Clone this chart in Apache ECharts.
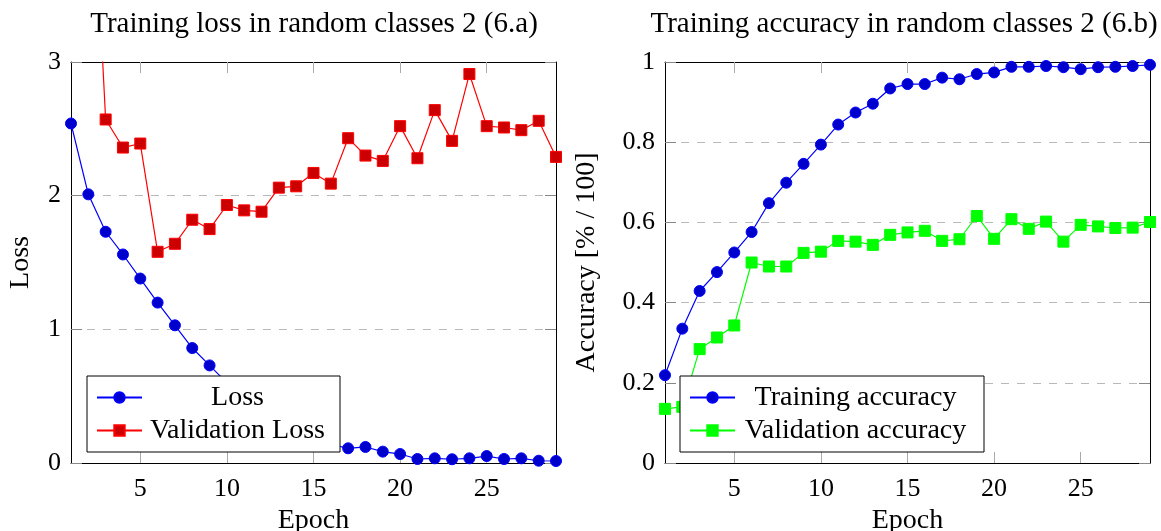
<!DOCTYPE html>
<html>
<head>
<meta charset="utf-8">
<script src="https://cdn.jsdelivr.net/npm/echarts@6/dist/echarts.min.js"></script>
<style>
html,body{margin:0;padding:0;background:#fff;}
#c{width:1161px;height:531px;}
</style>
</head>
<body>
<div id="c"></div>
<script>
// ---- data ----
const epochs = [1,2,3,4,5,6,7,8,9,10,11,12,13,14,15,16,17,18,19,20,21,22,23,24,25,26,27,28,29];
const lossValues = [2.54,2.01,1.73,1.56,1.38,1.20,1.03,0.86,0.73,0.60,0.49,0.39,0.31,0.24,0.18,0.14,0.11,0.12,0.085,0.067,0.03,0.035,0.028,0.035,0.052,0.03,0.035,0.017,0.015];
const valLossValues = [6.0,5.1,2.57,2.36,2.39,1.58,1.64,1.82,1.75,1.93,1.89,1.88,2.06,2.07,2.17,2.09,2.43,2.30,2.26,2.52,2.28,2.64,2.41,2.91,2.52,2.51,2.49,2.56,2.29];
const trainAccValues = [0.219,0.335,0.429,0.476,0.525,0.576,0.648,0.699,0.746,0.794,0.844,0.874,0.896,0.934,0.945,0.945,0.961,0.957,0.970,0.974,0.988,0.988,0.990,0.987,0.982,0.987,0.988,0.990,0.993];
const valAccValues = [0.135,0.140,0.284,0.313,0.343,0.500,0.490,0.490,0.524,0.527,0.554,0.552,0.544,0.569,0.575,0.579,0.554,0.558,0.616,0.559,0.608,0.584,0.602,0.552,0.594,0.590,0.586,0.587,0.601];
const epochTicks = [5,10,15,20,25];
const lossTickStep = 1;
const accTickStep = 0.2;
const titles = ['Training loss in random classes 2 (6.a)', 'Training accuracy in random classes 2 (6.b)'];
const seriesNames = ['Loss', 'Validation Loss', 'Training accuracy', 'Validation accuracy'];

// ---- chart ----
const FONT = '"Liberation Serif", "DejaVu Serif", serif';
const pairs = vals => epochs.map((e, i) => [e, vals[i]]);

function xAxes(gi) {
  const common = {
    gridIndex: gi, type: 'value', min: 1, max: 29,
    axisLine: { show: true, onZero: false, lineStyle: { color: '#000', width: 1 } },
    axisTick: { show: true, inside: true, length: 11, customValues: epochTicks, lineStyle: { color: '#aaa', width: 1 } },
    splitLine: { show: false }
  };
  return [
    Object.assign({}, common, {
      position: 'bottom',
      axisLabel: { show: true, customValues: epochTicks, margin: 13, fontSize: 26, fontFamily: FONT, color: '#000' },
      name: 'Epoch', nameLocation: 'middle', nameGap: 43,
      nameTextStyle: { fontSize: 28, fontFamily: FONT, color: '#000' }
    }),
    Object.assign({}, common, { position: 'top', axisLabel: { show: false } })
  ];
}

function yAxes(gi, max, step, name, nameGap) {
  const common = {
    gridIndex: gi, type: 'value', min: 0, max: max, interval: step,
    axisLine: { show: true, onZero: false, lineStyle: { color: '#000', width: 1 } },
    axisTick: { show: true, inside: true, length: 11, lineStyle: { color: '#888', width: 1 } }
  };
  return [
    Object.assign({}, common, {
      position: 'left',
      axisLabel: { show: true, margin: 10, fontSize: 26, fontFamily: FONT, color: '#000' },
      splitLine: { show: true, showMinLine: false, showMaxLine: false, lineStyle: { type: [8, 8], color: '#b8b8b8', width: 1 } },
      name: name, nameLocation: 'middle', nameGap: nameGap,
      nameTextStyle: { fontSize: 28, fontFamily: FONT, color: '#000' }
    }),
    Object.assign({}, common, { position: 'right', axisLabel: { show: false }, splitLine: { show: false } })
  ];
}

function lineSeries(name, xi, yi, vals, symbol, lineColor, fillColor) {
  return {
    name: name, type: 'line', xAxisIndex: xi, yAxisIndex: yi,
    data: pairs(vals), symbol: symbol, symbolSize: 11, showSymbol: true,
    clip: true,
    lineStyle: { color: lineColor, width: 1.2 },
    itemStyle: { color: fillColor, borderColor: lineColor, borderWidth: 1 },
    emphasis: { disabled: true }
  };
}

function legend(names, left, textW, padR) {
  return {
    orient: 'vertical', left: left, top: 376,
    data: names,
    backgroundColor: '#fff', borderColor: '#000', borderWidth: 1, borderRadius: 0,
    padding: [6, padR, 6, 9], itemGap: 2, itemWidth: 45, itemHeight: 13,
    selectedMode: false,
    formatter: n => '{t|' + n + '}',
    textStyle: {
      fontFamily: FONT, fontSize: 28, color: '#000', lineHeight: 31,
      rich: { t: { width: textW, align: 'center', fontFamily: FONT, fontSize: 28, lineHeight: 31, height: 31, color: '#000' } }
    }
  };
}

const chart = echarts.init(document.getElementById('c'), null, { renderer: 'canvas' });
chart.setOption({
  animation: false,
  backgroundColor: '#fff',
  title: [
    { text: titles[0], left: 314, top: 10, textAlign: 'center', padding: 0,
      textStyle: { fontSize: 29, fontWeight: 'normal', fontFamily: FONT, color: '#000' } },
    { text: titles[1], left: 904, top: 10, textAlign: 'center', padding: 0,
      textStyle: { fontSize: 29, fontWeight: 'normal', fontFamily: FONT, color: '#000' } }
  ],
  grid: [
    { left: 71, top: 62, width: 485, height: 401, outerBoundsMode: 'none', containLabel: false },
    { left: 665, top: 62, width: 485, height: 401, outerBoundsMode: 'none', containLabel: false }
  ],
  xAxis: xAxes(0).concat(xAxes(1)),
  yAxis: yAxes(0, 3, lossTickStep, 'Loss', 36).concat(yAxes(1, 1, accTickStep, 'Accuracy [% / 100]', 64)),
  legend: [
    legend([seriesNames[0], seriesNames[1]], 87, 181, 12),
    legend([seriesNames[2], seriesNames[3]], 680, 231, 13)
  ],
  series: [
    lineSeries(seriesNames[0], 0, 0, lossValues, 'circle', '#0000ff', '#0000cc'),
    lineSeries(seriesNames[1], 0, 0, valLossValues, 'rect', '#ff0000', '#cc0000'),
    lineSeries(seriesNames[2], 2, 2, trainAccValues, 'circle', '#0000ff', '#0000cc'),
    lineSeries(seriesNames[3], 2, 2, valAccValues, 'rect', '#00ff00', '#00ff00')
  ]
});
</script>
</body>
</html>
